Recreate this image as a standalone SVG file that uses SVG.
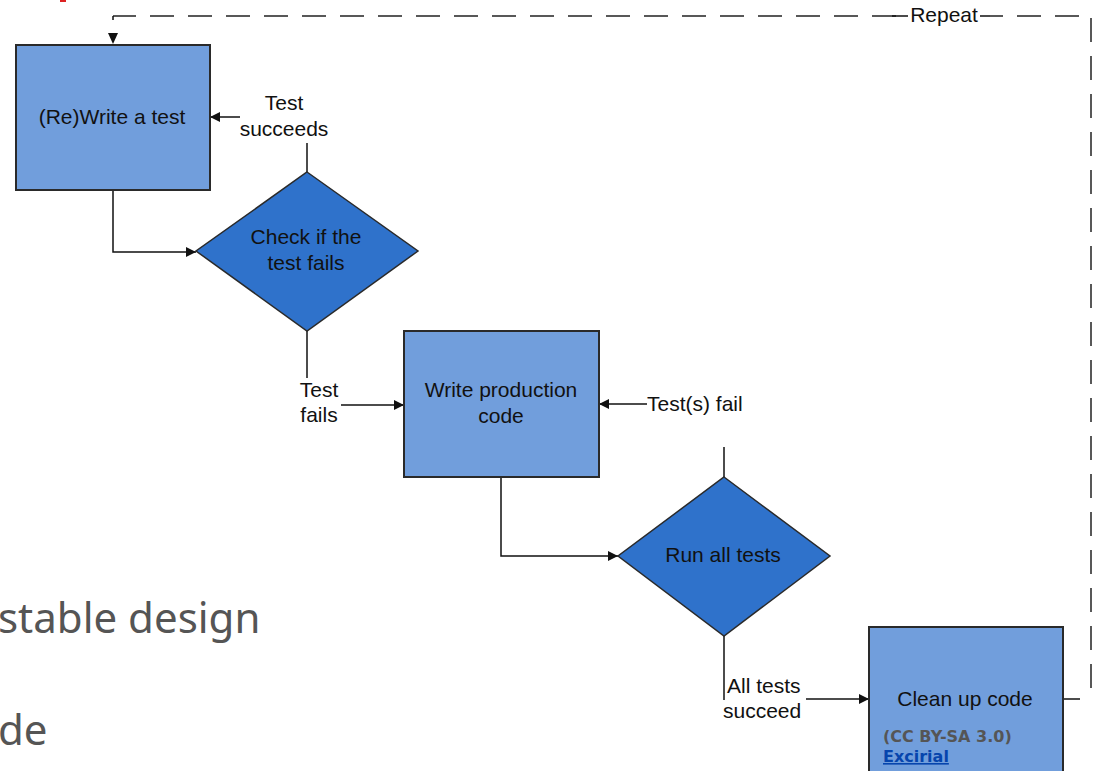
<svg xmlns="http://www.w3.org/2000/svg" width="1095" height="771" viewBox="0 0 1095 771">
  <defs>
    <marker id="arr" viewBox="0 0 10 10" refX="10" refY="5" markerWidth="10" markerHeight="10" markerUnits="userSpaceOnUse" orient="auto">
      <path d="M0,0 L10,5 L0,10 z" fill="#111"/>
    </marker>
    <style>
      .box { fill: #719edc; stroke: #2a2a2a; stroke-width: 2; }
      .dia { fill: #2f72cb; stroke: #2a2a2a; stroke-width: 1.5; }
      .lbl { font-family: "Liberation Sans", Arial, sans-serif; font-size: 21px; fill: #111; }
      .ctr { text-anchor: middle; }
      .edge { fill: none; stroke: #111; stroke-width: 1.5; }
      .dash { fill: none; stroke: #222; stroke-width: 1.5; stroke-dasharray: 24 14; }
      .side { font-family: "Noto Sans", "Open Sans", sans-serif; font-size: 42px; fill: #555; }
      .credit { font-family: "DejaVu Sans", Verdana, sans-serif; font-size: 16px; font-weight: bold; }
    </style>
  </defs>
  <rect width="1095" height="771" fill="#fff"/>
  <rect x="60" y="0" width="6" height="2" fill="#d22"/>

  <!-- body text running behind the chart -->
  <text class="side" x="-2" y="633">stable design</text>
  <text class="side" x="-2" y="745">de</text>

  <g id="connectors">
    <path class="edge" d="M113,190 V252 H196" marker-end="url(#arr)"/>
    <path class="edge" d="M307,172 V143"/>
    <path class="edge" d="M240,117 H210" marker-end="url(#arr)"/>
    <path class="edge" d="M307,331 V378"/>
    <path class="edge" d="M341,405 H404" marker-end="url(#arr)"/>
    <path class="edge" d="M501,477 V556 H618" marker-end="url(#arr)"/>
    <path class="edge" d="M724,477 V447"/>
    <path class="edge" d="M647,404 H599" marker-end="url(#arr)"/>
    <path class="edge" d="M724,636 V700"/>
    <path class="edge" d="M806,699 H869" marker-end="url(#arr)"/>
    <path class="edge" d="M1063,699 H1080"/>
    <!-- dashed "Repeat" loop back to the first step -->
    <path class="dash" d="M1091,688 V16 H990"/>
    <path class="dash" d="M896,16 H113"/>
    <path class="edge" d="M113,16 V20"/>
    <path class="edge" d="M892,16 H908 M980,16 H990"/>
    <path d="M108,33 L118,33 L113,44 z" fill="#111"/>
    <text class="lbl ctr" x="944" y="22" font-size="20">Repeat</text>
    <text class="lbl ctr" x="284" y="110">Test</text>
    <text class="lbl ctr" x="284" y="136">succeeds</text>
    <text class="lbl ctr" x="319" y="397">Test</text>
    <text class="lbl ctr" x="319" y="422">fails</text>
    <text class="lbl" x="647" y="411">Test(s) fail</text>
    <text class="lbl" x="727" y="693">All tests</text>
    <text class="lbl" x="723" y="718">succeed</text>
  </g>

  <g id="write-test">
    <rect class="box" x="16" y="45" width="194" height="145"/>
    <text class="lbl ctr" x="112" y="124">(Re)Write a test</text>
  </g>

  <g id="check-fails">
    <polygon class="dia" points="307,172 418,251 307,331 196,251"/>
    <text class="lbl ctr" x="306" y="244">Check if the</text>
    <text class="lbl ctr" x="306" y="270">test fails</text>
  </g>

  <g id="write-code">
    <rect class="box" x="404" y="331" width="195" height="146"/>
    <text class="lbl ctr" x="501" y="397">Write production</text>
    <text class="lbl ctr" x="501" y="423">code</text>
  </g>

  <g id="run-tests">
    <polygon class="dia" points="724,477 830,556 724,636 618,556"/>
    <text class="lbl ctr" x="723" y="562">Run all tests</text>
  </g>

  <g id="clean-up">
    <rect class="box" x="869" y="627" width="194" height="160"/>
    <text class="lbl ctr" x="965" y="706">Clean up code</text>
    <text class="credit" x="883" y="742" fill="#555">(CC BY-SA 3.0)</text>
    <text class="credit" x="883" y="762" fill="#0645ad" text-decoration="underline">Excirial</text>
  </g>
</svg>
